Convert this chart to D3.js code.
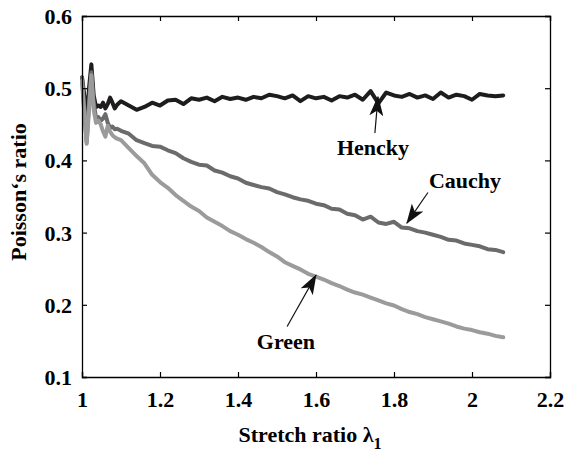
<!DOCTYPE html>
<html><head><meta charset="utf-8">
<script src="https://cdn.jsdelivr.net/npm/d3@7"></script>
<style>body{margin:0;background:#fff}svg{display:block}</style>
</head><body>
<svg id="c" width="566" height="452"></svg>
<script>
const stretch = [1.000,1.006,1.012,1.018,1.024,1.030,1.036,1.042,1.048,1.054,1.060,1.066,1.072,1.078,1.084,1.090,
1.10,1.12,1.14,1.16,1.18,1.20,1.22,1.24,1.26,1.28,1.30,1.32,1.34,1.36,1.38,1.40,1.42,1.44,1.46,1.48,1.50,1.52,1.54,1.56,1.58,1.60,1.62,1.64,1.66,1.68,1.70,1.72,1.74,1.76,1.78,1.80,1.82,1.84,1.86,1.88,1.90,1.92,1.94,1.96,1.98,2.00,2.02,2.04,2.06,2.08];
const hencky = [0.515,0.490,0.450,0.500,0.533,0.490,0.474,0.476,0.474,0.480,0.472,0.478,0.487,0.480,0.472,0.477,
0.482,0.476,0.470,0.474,0.480,0.476,0.483,0.484,0.478,0.486,0.484,0.487,0.482,0.488,0.485,0.487,0.484,0.488,0.486,0.491,0.489,0.486,0.490,0.482,0.489,0.486,0.488,0.483,0.489,0.487,0.491,0.484,0.496,0.479,0.494,0.490,0.488,0.492,0.487,0.490,0.485,0.494,0.487,0.491,0.489,0.484,0.492,0.490,0.489,0.490];
const cauchy = [0.515,0.470,0.425,0.480,0.522,0.480,0.458,0.460,0.455,0.458,0.464,0.452,0.445,0.447,0.443,0.444,
0.441,0.437,0.428,0.424,0.420,0.419,0.414,0.410,0.403,0.398,0.394,0.393,0.386,0.383,0.378,0.375,0.369,0.366,0.363,0.361,0.356,0.353,0.349,0.346,0.344,0.340,0.338,0.333,0.332,0.326,0.324,0.318,0.322,0.314,0.312,0.315,0.307,0.306,0.302,0.300,0.297,0.294,0.290,0.289,0.285,0.283,0.281,0.277,0.276,0.273];
const green = [0.510,0.465,0.423,0.470,0.518,0.470,0.452,0.455,0.450,0.440,0.433,0.448,0.440,0.435,0.432,0.430,
0.428,0.417,0.406,0.396,0.380,0.370,0.362,0.352,0.344,0.336,0.330,0.321,0.315,0.309,0.302,0.297,0.291,0.286,0.280,0.273,0.267,0.259,0.254,0.249,0.243,0.239,0.235,0.230,0.226,0.221,0.217,0.214,0.210,0.206,0.202,0.199,0.194,0.190,0.187,0.183,0.180,0.177,0.174,0.170,0.167,0.165,0.162,0.160,0.157,0.155];
const xTicks = [1,1.2,1.4,1.6,1.8,2,2.2];
const yTicks = [0.1,0.2,0.3,0.4,0.5,0.6];
const seriesNames = ["Hencky","Cauchy","Green"];
const seriesColors = ["#1e1c1d","#6b6b6b","#9b9b9b"];
// annotations: label, label position (data), arrow tail (data), arrow tip (data)
const annotations = [
  {label:"Hencky", lx:1.746, ly:0.408, tx:1.751, ty:0.438, hx:1.759, hy:0.488},
  {label:"Cauchy", lx:1.982, ly:0.362, tx:1.887, ty:0.3555, hx:1.833, hy:0.313},
  {label:"Green",  lx:1.523, ly:0.139, tx:1.526, ty:0.170, hx:1.600, hy:0.241}
];

const FONT = "Liberation Serif";
const svg = d3.select("#c");
const m = {l:82,r:16,t:16,b:75};
const W = 566, H = 452;
const x = d3.scaleLinear().domain([1,2.2]).range([m.l, W-m.r]);
const y = d3.scaleLinear().domain([0.1,0.6]).range([H-m.b, m.t]);

const g = svg.append("g");
const data = [hencky,cauchy,green];
const line = d3.line().x((d,i)=>x(stretch[i])).y(d=>y(d));
data.forEach((s,k)=>{
  g.append("path").datum(s).attr("d",line).attr("fill","none")
   .attr("stroke",seriesColors[k]).attr("stroke-width",4).attr("stroke-linejoin","round").attr("stroke-linecap","round");
});

function styleText(sel, size){ sel.attr("font-family",FONT).attr("font-weight","bold").attr("font-size",size).attr("fill","#000"); }

const fs = 22;
const ax = svg.append("g").attr("transform",`translate(0,${H-m.b})`).call(d3.axisBottom(x).tickValues(xTicks).tickSize(-5).tickFormat(d3.format("~g")));
ax.selectAll("text").attr("y",30).attr("dy",0).call(styleText, fs);
const axT = svg.append("g").attr("transform",`translate(0,${m.t})`).call(d3.axisTop(x).tickValues(xTicks).tickSize(-5).tickFormat(""));
const ay = svg.append("g").attr("transform",`translate(${m.l},0)`).call(d3.axisLeft(y).tickValues(yTicks).tickSize(-5).tickFormat(d3.format(".1f")));
ay.selectAll("text").attr("x",-10).attr("dy","0.34em").call(styleText, fs);
const ayR = svg.append("g").attr("transform",`translate(${W-m.r},0)`).call(d3.axisRight(y).tickValues(yTicks).tickSize(-5).tickFormat(""));
[ax,axT,ay,ayR].forEach(a=>{a.attr("font-family",FONT);a.select(".domain").attr("stroke","#000").attr("stroke-width",1.3);a.selectAll(".tick line").attr("stroke","#000").attr("stroke-width",1.2);});

svg.append("text").attr("transform",`translate(26,192) rotate(-90)`).attr("text-anchor","middle")
  .call(styleText, 22).text("Poisson\u2018s ratio");
const xl = svg.append("text").attr("x",310).attr("y",442).attr("text-anchor","middle").call(styleText, 22);
xl.append("tspan").text("Stretch ratio \u03bb");
xl.append("tspan").attr("dy",7).attr("font-size",16).text("1");

svg.append("defs").append("marker").attr("id","ah").attr("viewBox","0 0 20 14").attr("refX",19).attr("refY",7)
  .attr("markerWidth",20).attr("markerHeight",14).attr("markerUnits","userSpaceOnUse").attr("orient","auto")
  .append("path").attr("d","M0,0 L20,7 L0,14 L5,7 Z").attr("fill","#111");
annotations.forEach(a=>{
  svg.append("line").attr("x1",x(a.tx)).attr("y1",y(a.ty)).attr("x2",x(a.hx)).attr("y2",y(a.hy))
    .attr("stroke","#111").attr("stroke-width",1.2).attr("marker-end","url(#ah)");
  svg.append("text").attr("x",x(a.lx)).attr("y",y(a.ly)).attr("text-anchor","middle").call(styleText, 22).text(a.label);
});
</script>
</body></html>
